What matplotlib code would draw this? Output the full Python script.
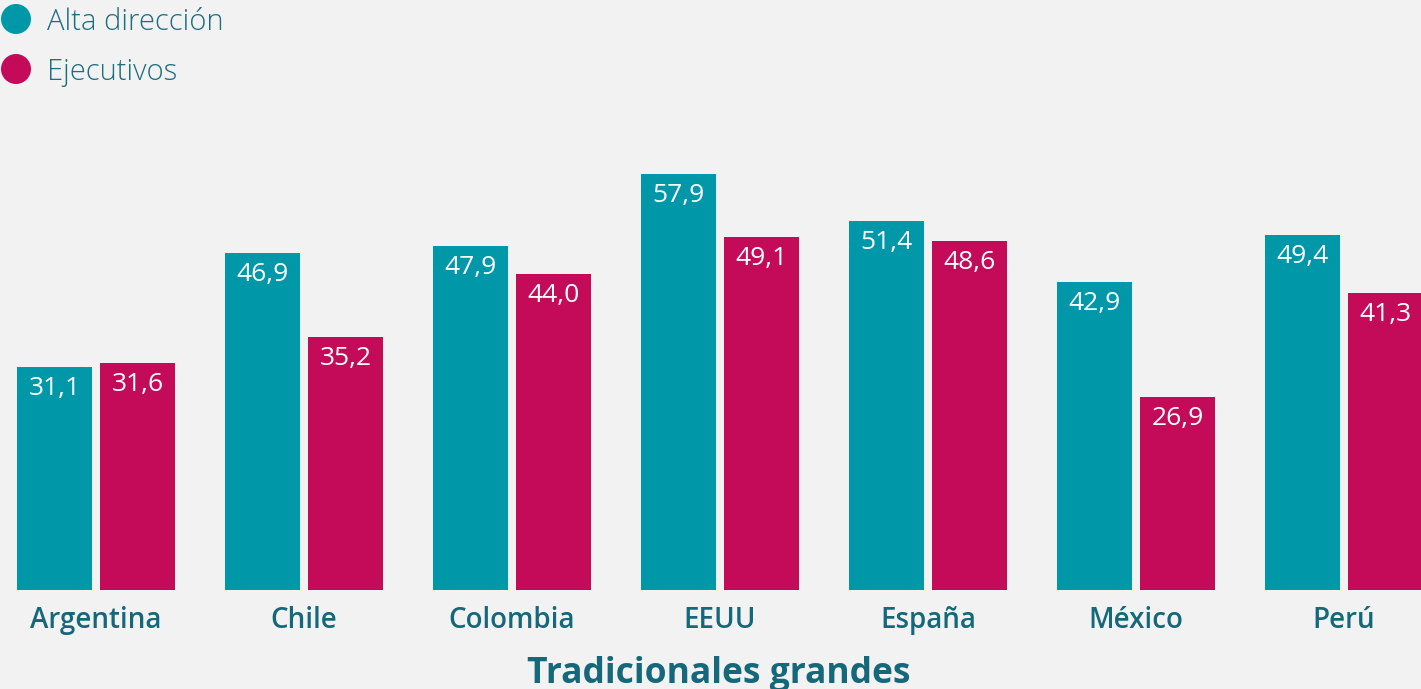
import matplotlib
matplotlib.use("Agg")
import matplotlib.pyplot as plt
from matplotlib.patches import Circle

# Data
countries = ["Argentina", "Chile", "Colombia", "EEUU", "España", "México", "Perú"]
alta_direccion = [31.1, 46.9, 47.9, 57.9, 51.4, 42.9, 49.4]
ejecutivos = [31.6, 35.2, 44.0, 49.1, 48.6, 26.9, 41.3]
series_names = ["Alta dirección", "Ejecutivos"]
title = "Tradicionales grandes"

# Style
BG = "#f2f2f2"
TEAL = "#0098a8"
MAGENTA = "#c30b5a"
TEXT_DARK = "#15677a"
FONT = ["Open Sans", "DejaVu Sans"]
plt.rcParams["font.family"] = FONT

W, H, DPI = 1421, 689, 100
fig = plt.figure(figsize=(W / DPI, H / DPI), dpi=DPI, facecolor=BG)

# Main bar axes: baseline 99 px above the bottom, groups 208 px apart
px_per_group = 208.0
first_center_px = 96.0
px_per_unit = 7.18
ax = fig.add_axes([0, 99 / H, 1, 590 / H])
ax.set_facecolor(BG)
ax.set_xlim(-first_center_px / px_per_group, (W - first_center_px) / px_per_group)
ax.set_ylim(0, 590 / px_per_unit)
for s in ax.spines.values():
    s.set_visible(False)
ax.set_xticks([])
ax.set_yticks([])

bar_w = 75 / px_per_group
offset = 41.5 / px_per_group
xs = list(range(len(countries)))

for vals, color, sign in [(alta_direccion, TEAL, -1), (ejecutivos, MAGENTA, 1)]:
    pos = [x + sign * offset for x in xs]
    ax.bar(pos, vals, width=bar_w, color=color, linewidth=0)
    for x, v in zip(pos, vals):
        ax.annotate(f"{v:.1f}".replace(".", ","), xy=(x, v), xytext=(0, -28 * 0.72),
                    textcoords="offset points", ha="center", va="baseline",
                    color="white", fontsize=19, clip_on=False)

for x, name in zip(xs, countries):
    ax.annotate(name, xy=(x, 0), xytext=(0, -38 * 0.72), textcoords="offset points",
                ha="center", va="baseline", color=TEXT_DARK, fontsize=20,
                fontweight="semibold", annotation_clip=False)

# Title below the categories
fig.text(718.5 / W, (H - 683) / H, title, ha="center", va="baseline",
         color=TEXT_DARK, fontsize=25.5, fontweight="bold")

# Legend drawn on a pixel-space overlay
lax = fig.add_axes([0, 0, 1, 1], facecolor="none")
lax.set_xlim(0, W)
lax.set_ylim(H, 0)
lax.axis("off")
for i, (name, color) in enumerate(zip(series_names, [TEAL, MAGENTA])):
    cy = 19 + 50 * i
    lax.add_patch(Circle((16, cy), 15, color=color, linewidth=0))
    lax.text(47, 30 + 50 * i, name, ha="left", va="baseline", color="#1d6d7e",
             fontsize=21, fontweight="light")

fig.savefig("out.png", dpi=DPI, facecolor=BG)
